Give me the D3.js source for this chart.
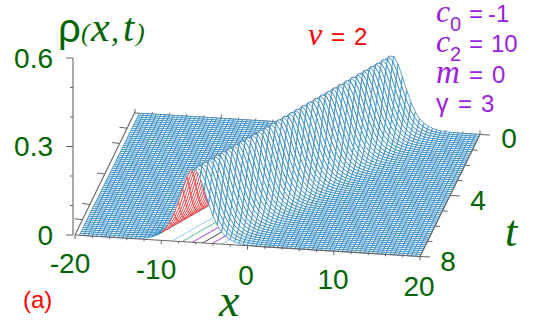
<!DOCTYPE html>
<html>
<head>
<meta charset="utf-8">
<script src="https://cdn.jsdelivr.net/npm/d3@7"></script>
<style>
    html, body { margin: 0; padding: 0; background: #fff; overflow: hidden; }
    text { font-family: "Liberation Sans", sans-serif; }
    .it { font-family: "Liberation Serif", serif; font-style: italic; }
</style>
</head>
<body>
<div id="canvas-svg"></div>
<script>
// grid of the surface
var xGrid = d3.range(-19.5, 20.01, 0.5);
var tGrid = d3.range(0, 8.01, 0.125);

// soliton profile, every 0.25 in x around the crest
var crestStep = 0.25;
var crestRho = [0.0005, 0.0006, 0.0008, 0.001, 0.0012, 0.0016, 0.002, 0.0026, 0.0033, 0.0041, 0.0052, 0.0066, 0.0084, 0.0107, 0.0135, 0.017,
    0.021, 0.0265, 0.033, 0.041, 0.051, 0.063, 0.078, 0.0945, 0.113, 0.134, 0.156, 0.179, 0.201, 0.2207, 0.2365, 0.2465,
    0.25,
    0.2465, 0.2365, 0.2207, 0.201, 0.179, 0.156, 0.134, 0.113, 0.0945, 0.078, 0.063, 0.051, 0.041, 0.033, 0.0265, 0.021,
    0.017, 0.0135, 0.0107, 0.0084, 0.0066, 0.0052, 0.0041, 0.0033, 0.0026, 0.002, 0.0016, 0.0012, 0.001, 0.0008, 0.0006, 0.0005];
var crestStart = 9.75;
var speed = 2;

// the odd coloured lines seen under the surface, x where they meet t = 8
var underX = [-8.75, -7.6, -6.4, -5.2, -4.1, -3];
var underColors = ["#8fcdf0", "#55b894", "#a43be0", "#444444", "#a43be0", "#8fcdf0"];

var zTicks = [0, 0.1, 0.2, 0.3, 0.4, 0.5, 0.6];
var zMajor = [0, 0.3, 0.6];
var xTicks = d3.range(-20, 20.01, 2);
var xMajor = [-20, -10, 0, 10, 20];
var tTicksRight = [0, 1, 2, 3, 4, 5, 6, 7, 8];
var tTicksLeft = [1, 2, 4, 6, 7];
var tMajor = [0, 4, 8];

var green = "#006400", red = "#ff0000", purple = "#9a1fe0", frameColor = "#666666";
var meshBlue = "#2a86c0", meshRed = "#e8383a";

var width = 538, height = 323;

var svg = d3.select("#canvas-svg").append("svg")
    .attr("width", width)
    .attr("height", height);

// affine 3d view: x, t and z each add a screen offset
var xToX = d3.scaleLinear().domain([-20, 20]).range([0, 345]);
var xToY = d3.scaleLinear().domain([-20, 20]).range([0, 21.5]);
var tToX = d3.scaleLinear().domain([0, 8]).range([135, 75]);
var tToY = d3.scaleLinear().domain([0, 8]).range([113, 235]);
var zToY = d3.scaleLinear().domain([0, 0.6]).range([0, -177]);

function project(x, t, z) {
    return [xToX(x) + tToX(t), xToY(x) + tToY(t) + zToY(z)];
}

function rhoAt(i, j) {
    var k = Math.round((xGrid[i] - crestStart + speed * tGrid[j]) / crestStep) + 32;
    return (k >= 0 && k < crestRho.length) ? crestRho[k] : 0;
}

var line = d3.line();

function segment(g, a, b, color, w) {
    g.append("path")
        .attr("d", line([a, b]))
        .attr("fill", "none")
        .attr("stroke", color)
        .attr("stroke-width", w);
}

// frame behind the surface
var back = svg.append("g");
segment(back, [135, 112], project(-20, 8, 0), frameColor, 1.1);
segment(back, project(-20, 0, 0), project(20, 0, 0), frameColor, 1.1);

tTicksLeft.forEach(function(t) {
    var p = project(-20, t, 0);
    segment(back, [p[0] - 8, p[1] - 1], p, frameColor, 1);
});
xTicks.forEach(function(x) {
    var p = project(x, 0, 0);
    var len = xMajor.indexOf(x) >= 0 ? 4 : 2;
    segment(back, p, [p[0], p[1] - len], frameColor, 1);
});

// lines under the surface, they get covered by the white cells later
underX.forEach(function(x0, n) {
    var pts = tGrid.slice().reverse().map(function(t) {
        return project(x0 + speed * (8 - t), t, 0);
    });
    back.append("path")
        .attr("d", line(pts))
        .attr("fill", "none")
        .attr("stroke", underColors[n])
        .attr("stroke-width", 1);
});

// surface cells painted back to front, flipped cells show the red underside
var cells = [];
tGrid.slice(0, -1).forEach(function(t, j) {
    xGrid.slice(0, -1).forEach(function(x, i) {
        var a = project(xGrid[i], tGrid[j], rhoAt(i, j));
        var b = project(xGrid[i + 1], tGrid[j], rhoAt(i + 1, j));
        var c = project(xGrid[i + 1], tGrid[j + 1], rhoAt(i + 1, j + 1));
        var d = project(xGrid[i], tGrid[j + 1], rhoAt(i, j + 1));
        var area = d3.polygonArea([a, b, c, d]);
        cells.push({pts: [a, b, c, d], flipped: area > 0});
    });
});

svg.append("g").selectAll("path").data(cells).enter().append("path")
    .attr("d", function(d) { return line(d.pts) + "Z"; })
    .attr("fill", "#ffffff")
    .attr("stroke", function(d) { return d.flipped ? meshRed : meshBlue; })
    .attr("stroke-width", 0.75)
    .attr("stroke-linejoin", "round");

// frame in front of the surface and the axes
var front = svg.append("g");
segment(front, project(-20, 8, 0), project(20, 8, 0), frameColor, 1.1);
segment(front, project(20, 0, 0), project(20, 8, 0), frameColor, 1.1);

xTicks.forEach(function(x) {
    var p = project(x, 8, 0);
    var len = xMajor.indexOf(x) >= 0 ? 4 : 2;
    segment(front, p, [p[0], p[1] + len], frameColor, 1);
});
tTicksRight.forEach(function(t) {
    var p = project(20, t, 0);
    var len = tMajor.indexOf(t) >= 0 ? 10 : 5;
    segment(front, p, [p[0] + len, p[1] + 0.5], frameColor, 1);
});

var zAxisX = 73;
segment(front, [zAxisX, project(-20, 8, 0.6)[1]], [zAxisX, project(-20, 8, 0)[1]], frameColor, 1.1);
zTicks.forEach(function(z) {
    var y = project(-20, 8, z)[1];
    var len = zMajor.indexOf(z) >= 0 ? 7 : 3;
    segment(front, [zAxisX - len, y], [zAxisX, y], frameColor, 1);
});

function label(x, y, s, size, color, cls, anchor) {
    return svg.append("text")
        .attr("x", x).attr("y", y)
        .attr("font-size", size)
        .attr("fill", color)
        .attr("class", cls || null)
        .attr("text-anchor", anchor || "start")
        .text(s);
}

// tick labels
label(53, 68, "0.6", 28, green, null, "end");
label(53, 156, "0.3", 28, green, null, "end");
label(53, 245, "0", 28, green, null, "end");

label(70, 273, "-20", 28, green, null, "middle");
label(156, 279, "-10", 28, green, null, "middle");
label(246, 285, "0", 28, green, null, "middle");
label(333, 289, "10", 28, green, null, "middle");
label(419, 296, "20", 28, green, null, "middle");

label(509, 148, "0", 28, green, null, "middle");
label(478, 210, "4", 28, green, null, "middle");
label(448, 271, "8", 28, green, null, "middle");

// axis titles
label(58, 42, "ρ", 40, green);
label(81, 41, "(", 26, green, "it");
label(91, 41, "x", 42, green, "it");
label(111, 41, ",", 32, green, "it");
label(123, 41, "t", 40, green, "it");
label(136, 41, ")", 26, green, "it");
label(219, 316, "x", 46, green, "it");
label(505, 246, "t", 44, green, "it");

// annotations
label(308, 45, "v", 32, red, "it");
label(331, 45, "=", 24, red);
label(354, 45, "2", 24, red);

label(436, 22, "c", 32, purple, "it");
label(450, 31, "0", 20, purple);
label(469, 22, "=", 24, purple);
label(488, 22, "-1", 24, purple);

label(436, 52, "c", 32, purple, "it");
label(450, 61, "2", 20, purple);
label(469, 52, "=", 24, purple);
label(491, 52, "10", 24, purple);

label(436, 83, "m", 33, purple, "it");
label(469, 83, "=", 24, purple);
label(492, 83, "0", 24, purple);

label(436, 112, "γ", 25, purple);
label(458, 112, "=", 24, purple);
label(481, 112, "3", 24, purple);

label(23, 308, "(a)", 24, red);
</script>
</body>
</html>
